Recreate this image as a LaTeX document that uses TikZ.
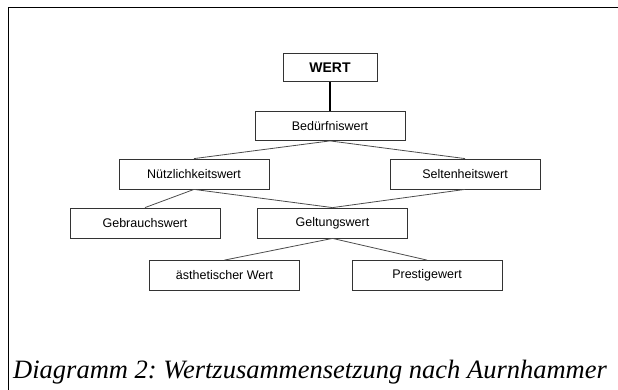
\documentclass[tikz,border=0pt]{standalone}
\usepackage{fontspec}
\setmainfont{Liberation Serif}
\newfontfamily\boxfont{Liberation Sans}
\frenchspacing
\tikzset{
  wertbox/.style = {draw = black!80, line width = 0.8pt, minimum width = 150pt, minimum height = 30pt,
                    inner sep = 0pt, font = \boxfont\fontsize{12.5}{14}\selectfont},
  wertline/.style = {draw = black!70, line width = 0.8pt}
}

\begin{document}
\begin{tikzpicture} [x = 1pt, y = -1pt]
\useasboundingbox (0, 0) rectangle (618, 390);

% frame
\draw[line width = 1pt] (8.5, 390) -- (8.5, 7.5) -- (618, 7.5);

% boxes
\node[wertbox, minimum width = 94pt, minimum height = 28pt, line width = 1pt,
      font = \boxfont\bfseries\fontsize{14}{16}\selectfont] (wert) at (330, 68){WERT};
\node[wertbox, minimum height = 29pt] (bed) at (330, 126){Bedürfniswert};
\node[wertbox] (nutz) at (194, 174){Nützlichkeitswert};
\node[wertbox] (selt) at (465, 174){Seltenheitswert};
\node[wertbox] (gebr) at (145, 223){Gebrauchswert};
\node[wertbox] (gelt) at (332.5, 223){Geltungswert};
\node[wertbox] (aest) at (224.5, 275.5){ästhetischer Wert};
\node[wertbox] (prest) at (427, 275.5){Prestigewert};

% connectors
\draw[line width = 1.5pt] (wert) -- (bed);
\draw[wertline] (bed.south) -- (nutz.north);
\draw[wertline] (bed.south) -- (selt.north);
\draw[wertline] (nutz.south) -- (gebr.north);
\draw[wertline] (nutz.south) -- (gelt.north);
\draw[wertline] (selt.south) -- (gelt.north);
\draw[wertline] (gelt.south) -- (aest.north);
\draw[wertline] (gelt.south) -- (prest.north);

% caption
\node[anchor = base west, inner sep = 0pt, font = \itshape\fontsize{26.5}{30}\selectfont] (caption) at (13, 378){Diagramm 2: Wertzusammensetzung nach Aurnhammer};
\end{tikzpicture}
\end{document}
